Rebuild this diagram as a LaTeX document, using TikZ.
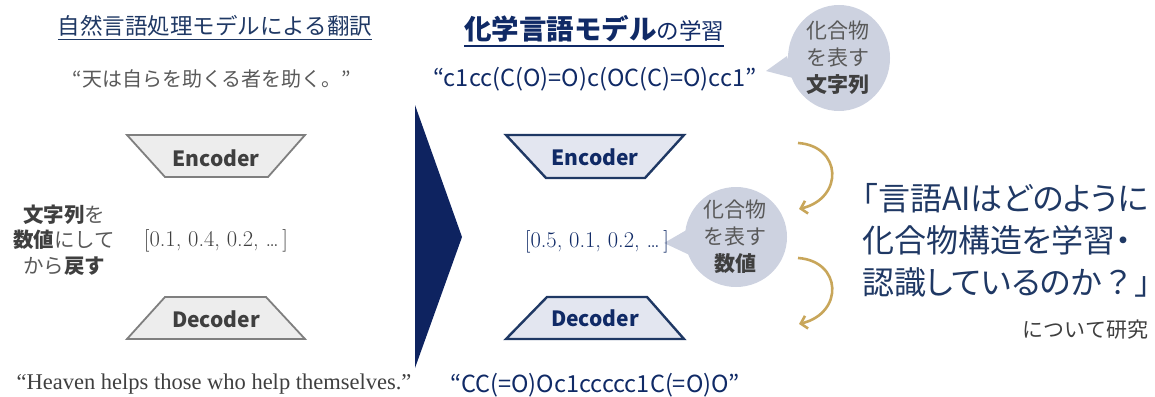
\documentclass[tikz,border=0pt]{standalone}
\usepackage{fontspec}
\usetikzlibrary{arrows.meta}
\newfontfamily\jp{Noto Sans CJK JP}
\newfontfamily\jpp[RawFeature=+palt]{Noto Sans CJK JP}
\newfontfamily\tms{Liberation Serif}
\definecolor{navyt}{HTML}{1F3864}
\definecolor{navyb}{HTML}{102A66}
\definecolor{navyd}{HTML}{0E2360}
\definecolor{bub}{HTML}{CDD2E0}
\definecolor{gtxt}{HTML}{595959}
\definecolor{gdark}{HTML}{3F3F3F}
\definecolor{gold}{HTML}{C8A65A}
\definecolor{encfill}{HTML}{EDEDED}
\definecolor{encline}{HTML}{7F7F7F}
\definecolor{encfillb}{HTML}{E3E6F0}
\begin{document}
\begin{tikzpicture}[x=1pt,y=-1pt,
  every node/.style={inner sep=0pt,outer sep=0pt},
  grayblock/.style={fill=encfill,draw=encline,line width=1.8pt,line join=miter},
  navyblock/.style={fill=encfillb,draw=navyt,line width=2.4pt,line join=miter},
  blocklabelg/.style={font=\jp\bfseries\fontsize{21}{24}\selectfont,text=gdark},
  blocklabeln/.style={font=\jp\bfseries\fontsize{21}{24}\selectfont,text=navyb},
  bubtext/.style={font=\jp\fontsize{21}{27}\selectfont,text=gtxt,align=center},
  vectext/.style={font=\rmfamily\fontsize{22.5}{26}\selectfont},
  goldarrow/.style={draw=gold,line width=2.6pt,-{Straight Barb[length=6pt,width=13pt]}},
]
\useasboundingbox (0,0) rectangle (1155,396);

% titles
\node (t1) at (215,26) {\jp\fontsize{22.5}{27}\selectfont\color{navyt}自然言語処理モデルによる翻訳};
\draw[navyt,line width=1pt] ([yshift=-5pt]t1.base west) -- ([yshift=-5pt]t1.base east);
\node (t2) at (594,29) {\jp\color{navyb}{\bfseries\fontsize{27.5}{30}\selectfont 化学言語モデル}{\fontsize{22.5}{27}\selectfont の学習}};
\draw[navyb,line width=1.6pt] ([yshift=-6pt]t2.base west) -- ([yshift=-6pt]t2.base east);

% quotes
\node (q1) at (212,79) {\jp\fontsize{20}{24}\selectfont\color{gtxt}“天は自らを助くる者を助く。”};
\node (q2) at (595,79) {\jp\fontsize{23.5}{27}\selectfont\color{navyb}“c1cc(C(O)=O)c(OC(C)=O)cc1”};
\node (q3) at (214,384) {\tms\fontsize{22.5}{26}\selectfont\color{gdark}“Heaven helps those who help themselves.”};
\node (q4) at (595,385) {\jp\fontsize{23.5}{27}\selectfont\color{navyb}“CC(=O)Oc1ccccc1C(=O)O”};

% bubble 1
\fill[bub] (787,56) -- (766,71) -- (793,78) -- cycle;
\fill[bub] (839,58) ellipse [x radius=51pt, y radius=53pt];
\node[bubtext] (b1) at (838,58) {化合物\\を表す\\{\bfseries\color{gdark}文字列}};

% bubble 2
\fill[bub] (690,228) -- (664,243) -- (696,258) -- cycle;
\fill[bub] (736,237) ellipse [x radius=51pt, y radius=50pt];
\node[bubtext] (b2) at (735,237) {化合物\\を表す\\{\bfseries\color{gdark}数値}};

% left encoder / decoder
\draw[grayblock] (127,135) -- (305,135) -- (268,177) -- (165,177) -- cycle;
\node[blocklabelg] (encL) at (216,158) {Encoder};
\draw[grayblock] (165,297) -- (266,297) -- (305,339) -- (127,339) -- cycle;
\node[blocklabelg] (decL) at (216,319) {Decoder};

% right encoder / decoder
\draw[navyblock] (506,135) -- (684,135) -- (645,178) -- (546,178) -- cycle;
\node[blocklabeln] (encR) at (595,157) {Encoder};
\draw[navyblock] (547,297) -- (647,297) -- (684,339) -- (506,339) -- cycle;
\node[blocklabeln] (decR) at (595,318) {Decoder};

% left side text
\node[font=\jp\fontsize{20.5}{25.5}\selectfont,text=gtxt,align=center] (lt) at (64,240)
  {{\bfseries\color{gdark}文字列}を\\{\bfseries\color{gdark}数値}にして\\から{\bfseries\color{gdark}戻す}};
\node[vectext,text=gdark] (v1) at (216,241) {[0.1, 0.4, 0.2, …\,]};
\node[vectext,text=navyb] (v2) at (597,242) {[0.5, 0.1, 0.2, …\,]};

% chevron
\fill[navyd] (415,105) -- (462,237) -- (415,368) -- cycle;

% gold arrows
\coordinate (a1s) at (798,143);
\coordinate (a1e) at (799,209);
\draw[goldarrow] (a1s) .. controls (842,146) and (844,198) .. (a1e);
\coordinate (a2s) at (798,258);
\coordinate (a2e) at (799,324);
\draw[goldarrow] (a2s) .. controls (842,261) and (844,313) .. (a2e);

% question text
\node[font=\jpp\fontsize{32}{42}\selectfont,text=navyt,align=left,anchor=west] (qt) at (862,240)
  {「言語AIはどのように\\化合物構造を学習・\\認識しているのか{\jp ？」}};
\node[font=\jp\fontsize{21}{24}\selectfont,text=gdark,anchor=east] (res) at (1148,330) {について研究};
\end{tikzpicture}
\end{document}
